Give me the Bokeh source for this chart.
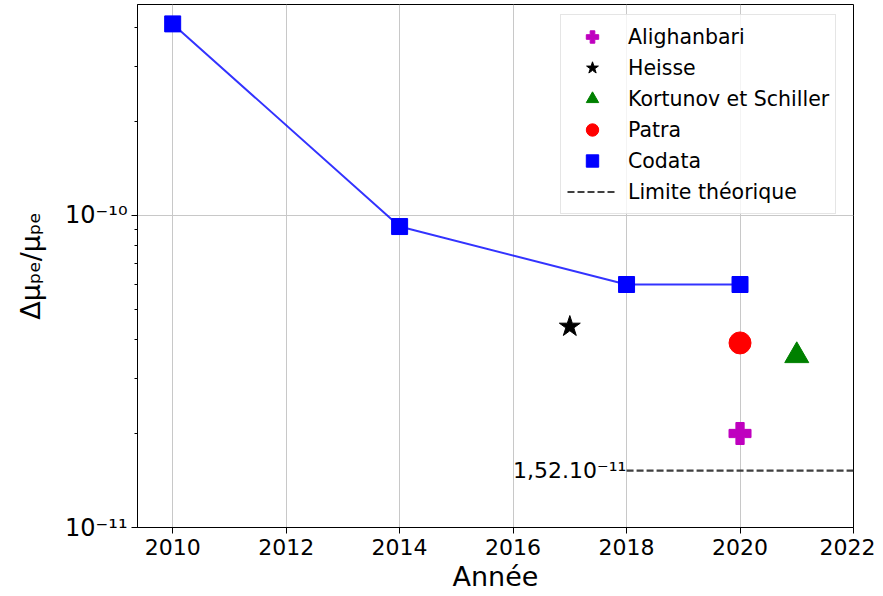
from bokeh.plotting import figure
from bokeh.models import (Range1d, FixedTicker, CustomJSTickFormatter, Legend,
                          LegendItem, ColumnDataSource)
from bokeh.core.properties import value
from bokeh.embed import file_html
from bokeh.resources import INLINE

# ---- data ----
codata_years = [2010, 2014, 2018, 2020]
codata_vals = [4.1e-10, 9.2e-11, 6.0e-11, 6.0e-11]

alighanbari_years = [2020]
alighanbari_vals = [2.0e-11]

heisse_years = [2017]
heisse_vals = [4.4e-11]

kortunov_years = [2021]
kortunov_vals = [3.55e-11]

patra_years = [2020]
patra_vals = [3.9e-11]

limit_years = [2018, 2022]
limit_vals = [1.52e-11, 1.52e-11]

annot_x = [2016.0]
annot_y = [1.52e-11]
annot_text = ["1,52.10\u207b\u00b9\u00b9"]

x_ticks = [2010, 2012, 2014, 2016, 2018, 2020, 2022]
y_ticks = [1e-11, 1e-10]
y_minor_ticks = [2e-11, 3e-11, 4e-11, 5e-11, 6e-11, 7e-11, 8e-11, 9e-11,
                 2e-10, 3e-10, 4e-10]

FONT = "DejaVu Sans"

p = figure(width=875, height=594, y_axis_type="log",
           x_range=Range1d(2009.38, 2022.0), y_range=Range1d(1e-11, 4.73e-10),
           output_backend="svg", toolbar_location=None,
           min_border_left=137, min_border_right=22, min_border_top=4,
           min_border_bottom=66)

p.background_fill_color = "white"
p.outline_line_color = "black"
p.outline_line_width = 1
p.outline_line_alpha = 1

p.xaxis.ticker = FixedTicker(ticks=x_ticks)
p.yaxis.ticker = FixedTicker(ticks=y_ticks, minor_ticks=y_minor_ticks)
p.yaxis.formatter = CustomJSTickFormatter(code="""
const sup = {'-':'\u207b','0':'\u2070','1':'\u00b9','2':'\u00b2','3':'\u00b3',
             '4':'\u2074','5':'\u2075','6':'\u2076','7':'\u2077','8':'\u2078','9':'\u2079'};
const e = Math.round(Math.log10(tick));
return '10' + String(e).split('').map(c => sup[c]).join('');
""")

for ax in (p.xaxis, p.yaxis):
    ax.axis_line_color = "black"
    ax.major_tick_line_color = "black"
    ax.minor_tick_line_color = "black"
    ax.major_tick_out = 6
    ax.major_tick_in = 0
    ax.minor_tick_out = 3
    ax.minor_tick_in = 0
    ax.major_label_text_font = FONT
    ax.major_label_text_font_size = "22px"
    ax.major_label_text_color = "black"
    ax.axis_label_text_font = FONT
    ax.axis_label_text_font_style = "normal"
    ax.axis_label_text_color = "black"

p.yaxis.major_label_text_font_size = "24px"

p.xaxis.axis_label = "Ann\u00e9e"
p.xaxis.axis_label_text_font_size = "27px"
p.xaxis.axis_label_standoff = 3
p.xaxis.major_label_standoff = 5

p.yaxis.axis_label = "\u0394\u03bc\u209a\u2091/\u03bc\u209a\u2091"
p.yaxis.axis_label_text_font_size = "27px"
p.yaxis.axis_label_standoff = 16
p.yaxis.major_label_standoff = 4

p.xgrid.grid_line_color = "#c8c8c8"
p.ygrid.grid_line_color = "#c8c8c8"
p.ygrid.ticker = FixedTicker(ticks=y_ticks)

# Codata line + markers
p.line(codata_years, codata_vals, line_color="blue", line_width=2, line_alpha=0.8)
r_codata = p.scatter(codata_years, codata_vals, marker="square", size=16,
                     fill_color="blue", line_color="blue")

r_ali = p.scatter(alighanbari_years, alighanbari_vals, marker="plus", size=22,
                  fill_color="#bf00bf", line_color="#bf00bf")
r_heisse = p.scatter(heisse_years, heisse_vals, marker="star", size=22,
                     fill_color="black", line_color="black")
r_kort = p.scatter(kortunov_years, kortunov_vals, marker="triangle", size=24,
                   fill_color="green", line_color="green")
r_patra = p.scatter(patra_years, patra_vals, marker="circle", size=22,
                    fill_color="red", line_color="red")
r_limit = p.line(limit_years, limit_vals, line_color="#404040", line_width=2.2,
                 line_dash="7 3")

src = ColumnDataSource(dict(x=annot_x, y=annot_y, t=annot_text))
p.text(x="x", y="y", text="t", source=src, text_font=value(FONT),
       text_font_size="22px", text_color="black", text_align="left",
       text_baseline="alphabetic")

legend = Legend(items=[
    LegendItem(label="Alighanbari", renderers=[r_ali]),
    LegendItem(label="Heisse", renderers=[r_heisse]),
    LegendItem(label="Kortunov et Schiller", renderers=[r_kort]),
    LegendItem(label="Patra", renderers=[r_patra]),
    LegendItem(label="Codata", renderers=[r_codata]),
    LegendItem(label="Limite th\u00e9orique", renderers=[r_limit]),
], location=(423, 313))
legend.label_text_font = FONT
legend.label_text_font_size = "20.5px"
legend.label_text_color = "black"
legend.glyph_height = 31
legend.glyph_width = 50
legend.label_height = 20
legend.spacing = 0
legend.padding = 6
legend.label_standoff = 11
legend.border_line_color = "#cccccc"
legend.border_line_width = 1
legend.background_fill_color = "white"
legend.background_fill_alpha = 0.8
p.add_layout(legend)

open("out.html", "w").write(file_html(p, INLINE))
